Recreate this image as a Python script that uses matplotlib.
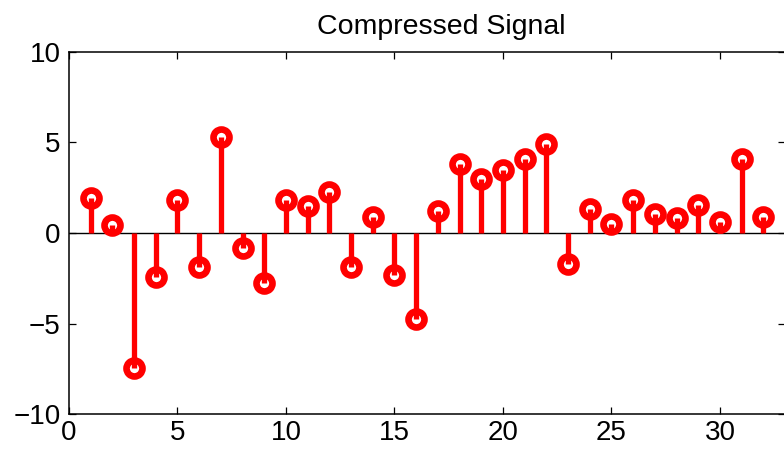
import numpy as np
import matplotlib.pyplot as plt

# sample index and compressed signal values
n = list(range(1, 33))
signal = [1.95, 0.45, -7.45, -2.45, 1.8, -1.85, 5.3, -0.8, -2.75, 1.8,
          1.5, 2.25, -1.85, 0.9, -2.3, -4.75, 1.2, 3.8, 3.0, 3.45,
          4.1, 4.9, -1.7, 1.35, 0.5, 1.8, 1.05, 0.8, 1.55, 0.6,
          4.1, 0.9]
xticks = [0, 5, 10, 15, 20, 25, 30]
yticks = [-10, -5, 0, 5, 10]

plt.rcParams['font.family'] = ['Liberation Sans', 'DejaVu Sans']

fig = plt.figure(figsize=(7.84, 4.57), dpi=100)
ax = fig.add_axes([69 / 784, 42.7 / 457, 716 / 784, 362.6 / 457])

ax.axhline(0, color='black', linewidth=1.0, zorder=1)
markerline, stemlines, baseline = ax.stem(n, signal, linefmt='r-', markerfmt='ro', basefmt=' ')
plt.setp(stemlines, linewidth=3.8, color='#ff0000')
plt.setp(markerline, markerfacecolor='none', markeredgecolor='#ff0000',
         markersize=11.5, markeredgewidth=4.8)
baseline.set_visible(False)

ax.set_xlim(0, 33)
ax.set_ylim(-10, 10)
ax.set_xticks(xticks)
ax.set_yticks(yticks)
ax.tick_params(direction='in', length=5, width=0.9, labelsize=20,
               top=True, right=True, color='black')
ax.tick_params(axis='x', pad=4)
ax.tick_params(axis='y', pad=6)
for s in ax.spines.values():
    s.set_linewidth(1.1)

ax.set_title('Compressed Signal', fontsize=20.5, pad=13, x=0.52)

fig.savefig('out.png', dpi=100)
